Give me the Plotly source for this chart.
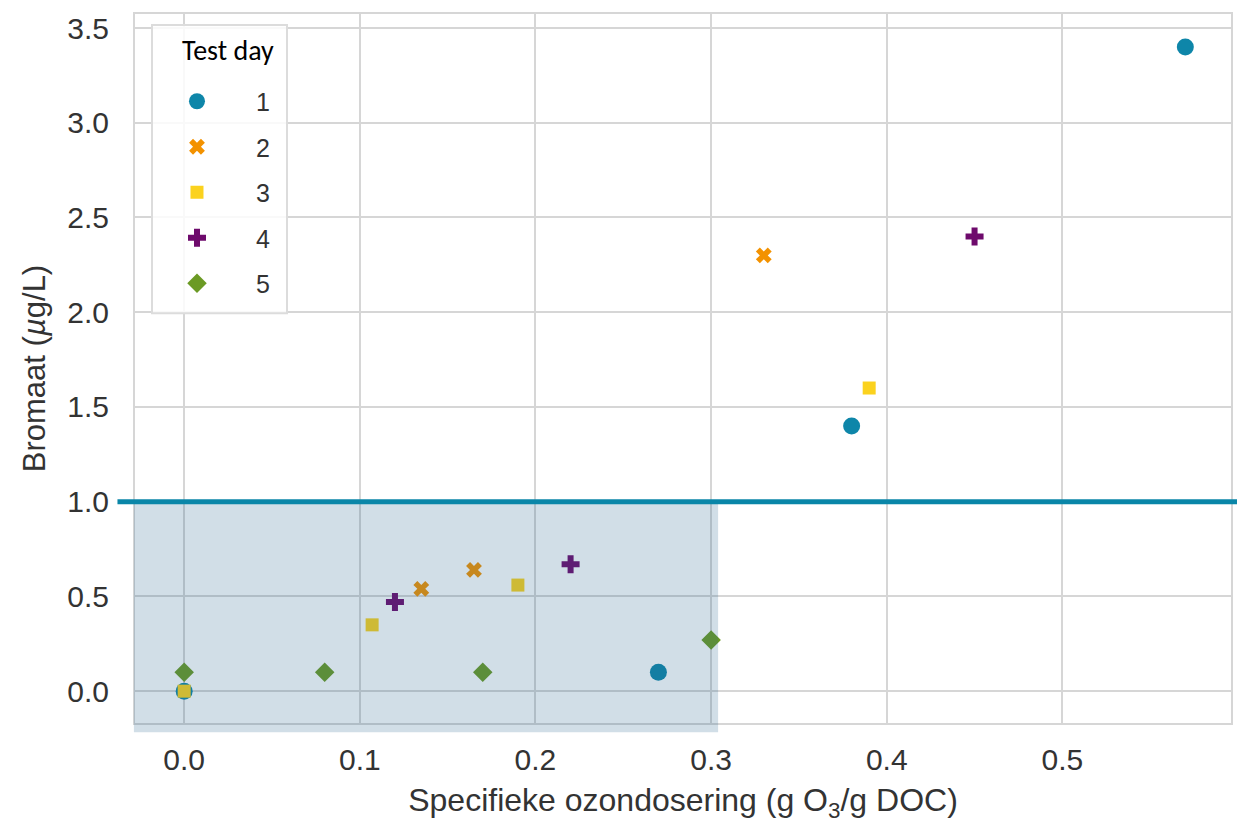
import plotly.graph_objects as go

# ---- data ----
day1_x = [0.0, 0.27, 0.38, 0.57]
day1_y = [0.0, 0.10, 1.40, 3.40]
day2_x = [0.135, 0.165, 0.33]
day2_y = [0.54, 0.64, 2.30]
day3_x = [0.0, 0.107, 0.19, 0.39]
day3_y = [0.0, 0.35, 0.56, 1.60]
day4_x = [0.12, 0.22, 0.45]
day4_y = [0.47, 0.67, 2.40]
day5_x = [0.0, 0.08, 0.17, 0.30]
day5_y = [0.10, 0.10, 0.10, 0.27]

day_labels = ["1", "2", "3", "4", "5"]
legend_title = "Test day"
threshold = 1.0          # bromate limit (µg/L)
safe_dose_max = 0.304    # upper end of shaded dose region

x_ticks = [0.0, 0.1, 0.2, 0.3, 0.4, 0.5]
y_ticks = [0.0, 0.5, 1.0, 1.5, 2.0, 2.5, 3.0, 3.5]

X_RANGE = [-0.028, 0.596]
Y_RANGE = [-0.168, 3.574]

series = [
    (day1_x, day1_y, "circle", "#0e86a9", 17),
    (day2_x, day2_y, "x", "#f39200", 14),
    (day3_x, day3_y, "square", "#fbd21e", 13),
    (day4_x, day4_y, "cross", "#6e0a6c", 15),
    (day5_x, day5_y, "diamond", "#6b9a24", 15),
]

fig = go.Figure()
for lab, (xs, ys, sym, col, sz) in zip(day_labels, series):
    fig.add_trace(go.Scatter(
        x=xs, y=ys, mode="markers", name="\u00a0\u00a0" + lab, legendgroup=lab,
        marker=dict(symbol=sym, color=col, size=sz, line=dict(width=0)),
    ))

def to_paper_x(v):
    return (v - X_RANGE[0]) / (X_RANGE[1] - X_RANGE[0])

def to_paper_y(v):
    return (v - Y_RANGE[0]) / (Y_RANGE[1] - Y_RANGE[0])

# shaded region (translucent overlay, tints grid and markers beneath)
fig.add_shape(type="rect", xref="paper", yref="paper",
              x0=-0.001, x1=to_paper_x(safe_dose_max),
              y0=-0.013, y1=to_paper_y(threshold),
              fillcolor="rgba(40,100,140,0.21)", line=dict(width=0), layer="above")
# threshold line
fig.add_shape(type="line", xref="paper", yref="paper",
              x0=-0.016, x1=1.03, y0=to_paper_y(threshold), y1=to_paper_y(threshold),
              line=dict(color="#0a86a8", width=5), layer="above")

# legend frame + title
fig.add_shape(type="rect", xref="paper", yref="paper",
              x0=0.0155, x1=0.1387, y0=0.578, y1=0.9845,
              fillcolor="rgba(255,255,255,0.85)", line=dict(color="#dcdcdc", width=2),
              layer="above")
fig.add_annotation(xref="paper", yref="paper", x=0.0849, y=0.948,
                   text=legend_title, showarrow=False, xanchor="center", yanchor="middle",
                   font=dict(family="Carlito, Open Sans, Liberation Sans", size=28, color="black"))

arial = "Liberation Sans, Arial"

fig.update_layout(
    width=1237, height=815,
    margin=dict(l=127, r=14, t=4, b=100),
    paper_bgcolor="white", plot_bgcolor="white",
    showlegend=True,
    legend=dict(
        x=0.0155, y=0.909, xanchor="left", yanchor="top",
        bgcolor="rgba(0,0,0,0)", borderwidth=0,
        font=dict(family=arial, size=25, color="#333333"),
        tracegroupgap=10, itemwidth=80,
    ),
    xaxis=dict(
        range=X_RANGE, tickvals=x_ticks, ticktext=[f"{v:.1f}" for v in x_ticks],
        showgrid=True, gridcolor="#d6d6d6", gridwidth=2,
        zeroline=False, showline=True, mirror=True, linecolor="#d6d6d6", linewidth=2,
        ticks="", ticklabelstandoff=9,
        tickfont=dict(family=arial, size=30, color="#333333"),
        title=dict(text="Specifieke ozondosering (g O<sub>3</sub>/g DOC)",
                   font=dict(family=arial, size=32, color="#333333"), standoff=19),
    ),
    yaxis=dict(
        range=Y_RANGE, tickvals=y_ticks, ticktext=[f"{v:.1f}" for v in y_ticks],
        showgrid=True, gridcolor="#d6d6d6", gridwidth=2,
        zeroline=False, showline=True, mirror=True, linecolor="#d6d6d6", linewidth=2,
        ticks="", ticklabelstandoff=18,
        tickfont=dict(family=arial, size=30, color="#333333"),
        title=dict(text="Bromaat (<i>µ</i>g/L)",
                   font=dict(family=arial, size=31, color="#333333"), standoff=12),
    ),
)

fig.write_html("out.html")
